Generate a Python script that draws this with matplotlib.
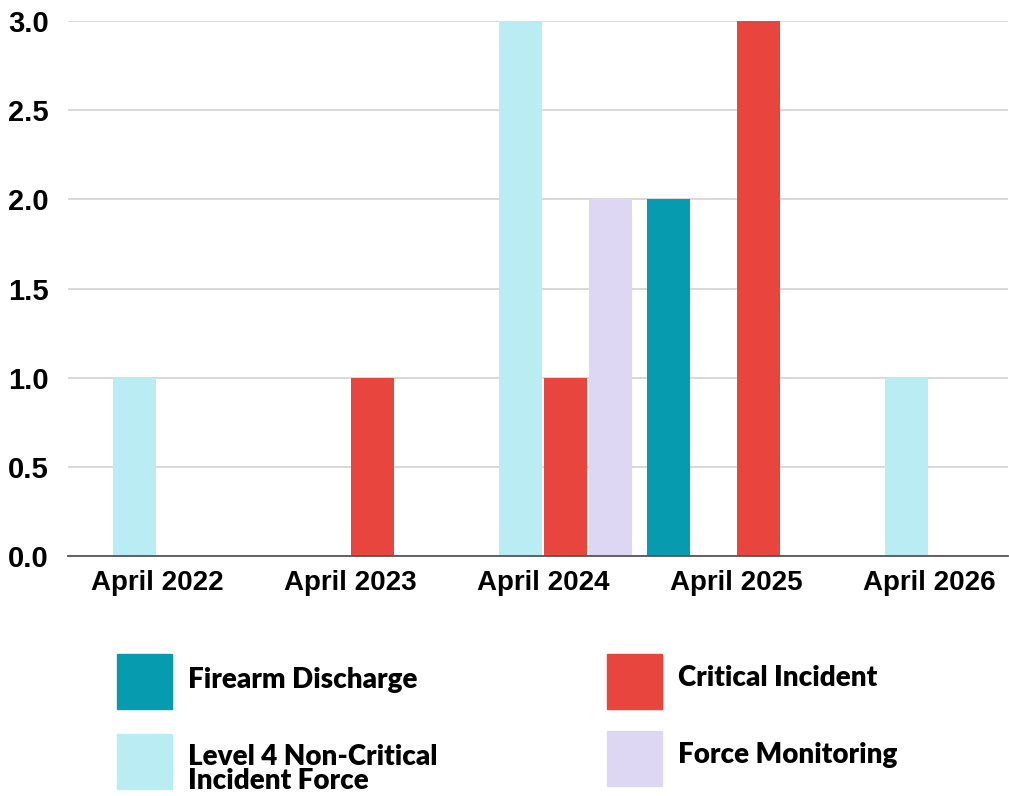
import matplotlib
matplotlib.use("Agg")
import matplotlib.pyplot as plt
from matplotlib.patches import Rectangle
import numpy as np

categories = ["April 2022", "April 2023", "April 2024", "April 2025", "April 2026"]
series_names = ["Firearm Discharge", "Level 4 Non-Critical\nIncident Force", "Critical Incident", "Force Monitoring"]
firearm = [0, 0, 0, 2, 0]
level4 = [1, 0, 3, 0, 1]
critical = [0, 1, 1, 3, 0]
force_mon = [0, 0, 2, 0, 0]
series_values = [firearm, level4, critical, force_mon]
colors = ["#069BAF", "#BAEDF3", "#E8453E", "#DDD7F4"]
yticks = [0.0, 0.5, 1.0, 1.5, 2.0, 2.5, 3.0]

W, H = 1009, 796
fig = plt.figure(figsize=(W / 100, H / 100), dpi=100)
ax = fig.add_axes([68 / W, 240 / H, (1008 - 68) / W, (556 - 21) / H])

x = np.arange(len(categories))
bw = 0.223
step = 0.233
for i, (vals, col) in enumerate(zip(series_values, colors)):
    off = (i - 1.5) * step
    ax.bar(x + off, vals, width=bw, color=col, zorder=3, linewidth=0)

ax.set_xlim(-0.461, 4.409)
ax.set_ylim(0, 3)
ax.set_yticks(yticks)
ax.set_yticklabels([f"{v:.1f}" for v in yticks])
ax.set_xticks(x)
ax.set_xticklabels(categories)
for s in ["top", "right", "left"]:
    ax.spines[s].set_visible(False)
ax.spines["bottom"].set_color("#555555")
ax.spines["bottom"].set_linewidth(1.3)
ax.spines["bottom"].set_zorder(4)
ax.grid(axis="y", color="#d6d6d6", linewidth=1.3, zorder=0)
ax.tick_params(axis="both", length=0)
ax.tick_params(axis="y", pad=14)
ax.tick_params(axis="x", pad=10)
for lbl in ax.get_yticklabels():
    lbl.set_fontfamily("Liberation Sans")
    lbl.set_fontweight("bold")
    lbl.set_fontsize(21)
for lbl in ax.get_xticklabels():
    lbl.set_fontfamily("Liberation Sans")
    lbl.set_fontweight("bold")
    lbl.set_fontsize(20)

# legend drawn manually in figure pixel coordinates
leg_items = [
    (0, 117, 654, 188, 680),
    (1, 117, 734, 188, 769),
    (2, 607, 654, 678, 678),
    (3, 607, 731, 678, 755),
]
for idx, sx, sy, tx, ty in leg_items:
    fig.patches.append(Rectangle((sx / W, 1 - (sy + 55) / H), 55 / W, 55 / H,
                                 transform=fig.transFigure, color=colors[idx]))
    fig.text(tx / W, 1 - ty / H, series_names[idx], fontsize=20, fontweight="heavy",
             family="Lato", va="center", ha="left", linespacing=0.95)

fig.savefig("out.png", dpi=100)
